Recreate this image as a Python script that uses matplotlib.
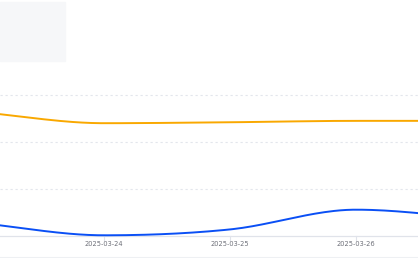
import numpy as np
import matplotlib
matplotlib.use("Agg")
import matplotlib.pyplot as plt
from matplotlib.patches import Rectangle

# daily values (arbitrary units, 100 per grid step); first/last days are partly off-canvas
days = ["2025-03-23", "2025-03-24", "2025-03-25", "2025-03-26", "2025-03-27"]
orange = [264, 240, 242, 245, 245]
blue = [28, 1.5, 14, 56, 36]
tick_labels = ["2025-03-24", "2025-03-25", "2025-03-26"]


def smooth(xs, ys, n=40):
    """Hermite smoothing between daily points, flat at local extremes (monotone-style)."""
    xs = np.asarray(xs, float); ys = np.asarray(ys, float)
    m = np.zeros_like(ys)
    for i in range(1, len(ys) - 1):
        a, b = ys[i] - ys[i - 1], ys[i + 1] - ys[i]
        m[i] = 0 if a * b <= 0 else (ys[i + 1] - ys[i - 1]) / (xs[i + 1] - xs[i - 1])
    m[0] = (ys[1] - ys[0]) / (xs[1] - xs[0])
    m[-1] = (ys[-1] - ys[-2]) / (xs[-1] - xs[-2])
    ox, oy = [], []
    for i in range(len(xs) - 1):
        h = xs[i + 1] - xs[i]
        t = np.linspace(0, 1, n, endpoint=False)
        h00 = 2 * t**3 - 3 * t**2 + 1; h10 = t**3 - 2 * t**2 + t
        h01 = -2 * t**3 + 3 * t**2; h11 = t**3 - t**2
        ox.append(xs[i] + t * h)
        oy.append(h00 * ys[i] + h10 * h * m[i] + h01 * ys[i + 1] + h11 * h * m[i + 1])
    ox.append([xs[-1]]); oy.append([ys[-1]])
    return np.concatenate(ox), np.concatenate(oy)


x = np.arange(len(days), dtype=float)
fig = plt.figure(figsize=(4.18, 2.58), dpi=100)
ax = fig.add_axes([0, 0, 1, 1])

# pixel layout: day spacing 126px, 03-24 at x=104; value 0 at y=236, 100 units = 47px
ax.set_xlim(1 - 104 / 126, 1 + 314 / 126)
ax.set_ylim((236 - 258) / 0.47, 236 / 0.47)

for gv in (100, 200, 300):
    ax.axhline(gv, color="#e3e6ec", lw=0.8, ls=(0, (2, 2.5)), zorder=1)
ax.axhline(0, color="#e0e3ea", lw=0.9, zorder=1)
ax.axhline((236 - 256.7) / 0.47, color="#eef0f3", lw=0.8, zorder=1)

sx, sy = smooth(x, orange)
ax.plot(sx, sy, color="#f9a800", lw=1.4, solid_capstyle="round", zorder=3)
sx, sy = smooth(x, blue)
ax.plot(sx, sy, color="#0a4ff5", lw=1.4, solid_capstyle="round", zorder=3)

for i, lbl in enumerate(tick_labels, start=1):
    ax.plot([i, i], [0, -4 / 0.47], color="#e0e3ea", lw=0.8, zorder=1)
    ax.text(i, -7.5 / 0.47, lbl, ha="center", va="center", fontsize=4.8, color="#6e7079")

ax.axis("off")
fig.patches.append(Rectangle((0, 1 - 61 / 258), 65 / 418, 59 / 258,
                             transform=fig.transFigure, color="#f6f7f9", zorder=0))
fig.savefig("out.png", dpi=100)
